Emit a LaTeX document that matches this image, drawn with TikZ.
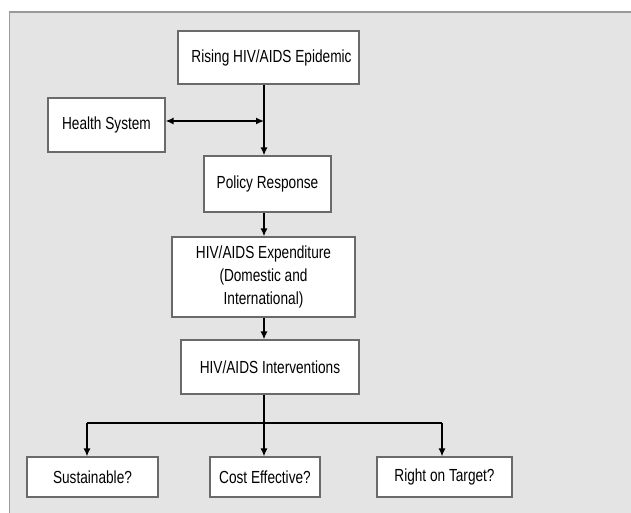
\documentclass[tikz,border=0pt]{standalone}
\usepackage{fontspec}
\setmainfont[FakeStretch=0.78]{Liberation Sans}
\usetikzlibrary{arrows.meta}
\definecolor{bgframe}{HTML}{E4E4E4}
\definecolor{frameline}{HTML}{9A9A9A}
\definecolor{boxline}{HTML}{6A6A6A}
\begin{document}
\begin{tikzpicture}[x=1pt,y=-1pt,
  box/.style={draw=boxline,line width=1.2pt,fill=white,inner sep=0pt,align=center,
    font=\fontsize{17.5}{23}\selectfont},
  conn/.style={line width=1.4pt,black},
  arr/.style={conn,-{Latex[length=8pt,width=7pt]}},
  darr/.style={conn,{Latex[length=8pt,width=7pt]}-{Latex[length=8pt,width=7pt]}}]
\useasboundingbox (0,0) rectangle (631,512);
\fill[white] (0,0) rectangle (631,512);
\draw[frameline,line width=1.4pt,fill=bgframe] (9.5,12) rectangle (650,530);

\node[box,minimum width=181pt,minimum height=53pt] (rise) at (268.5,57.5) {\hspace*{6pt}Rising HIV/AIDS Epidemic};
\node[box,minimum width=117pt,minimum height=54pt] (hs) at (106.5,125) {Health System};
\node[box,minimum width=127pt,minimum height=56pt] (pol) at (267.5,184) {Policy Response};
\node[box,minimum width=183pt,minimum height=80pt] (exp) at (263.5,277) {HIV/AIDS Expenditure\\(Domestic and\\International)};
\node[box,minimum width=178pt,minimum height=54pt] (int) at (270,367) {HIV/AIDS Interventions};
\node[box,minimum width=131pt,minimum height=40pt] (sus) at (92.5,477) {Sustainable?};
\node[box,minimum width=110pt,minimum height=40pt] (cost) at (265,477) {Cost Effective?};
\node[box,minimum width=135pt,minimum height=40pt] (rt) at (444.5,477) {Right on Target?};

\coordinate (j1) at (264,121);
\coordinate (b0) at (264,423);
\coordinate (bl) at (87,423);
\coordinate (br) at (442,423);

\draw[conn] (rise.south -| j1) -- (j1);
\draw[arr] (j1) -- (pol.north -| j1);
\draw[darr] (hs.east |- j1) -- (j1);
\draw[arr] (pol.south -| j1) -- (exp.north -| j1);
\draw[arr] (exp.south -| j1) -- (int.north -| j1);
\draw[conn] (int.south -| b0) -- (b0);
\draw[conn] (bl) -- (br);
\draw[arr] (bl) -- (sus.north -| bl);
\draw[arr] (b0) -- (cost.north -| b0);
\draw[arr] (br) -- (rt.north -| br);
\end{tikzpicture}
\end{document}
